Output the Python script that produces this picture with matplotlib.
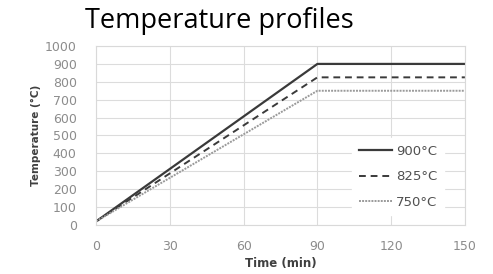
import matplotlib.pyplot as plt

# time points (min) and temperatures (°C) per profile
time = [0, 90, 150]
t900 = [20, 900, 900]
t825 = [20, 825, 825]
t750 = [20, 750, 750]
labels = ["900°C", "825°C", "750°C"]

plt.rcParams['font.family'] = ['DejaVu Sans']

fig = plt.figure(figsize=(4.93, 2.74), dpi=100)
ax = fig.add_axes([0.195, 0.179, 0.748, 0.653])

ax.plot(time, t900, color='#3a3a3a', lw=1.6, ls='-', label=labels[0])
ax.plot(time, t825, color='#3a3a3a', lw=1.4, ls=(0, (3.5, 2.5)), label=labels[1])
ax.plot(time, t750, color='#9a9a9a', lw=1.4, ls=(0, (1, 0.6)), label=labels[2])

ax.set_xlim(0, 150)
ax.set_ylim(0, 1000)
ax.set_xticks(range(0, 151, 30))
ax.set_yticks(range(0, 1001, 100))
ax.grid(True, color='#dcdcdc', lw=0.8)
ax.set_axisbelow(True)
for s in ax.spines.values():
    s.set_color('#d9d9d9')
    s.set_linewidth(0.8)
ax.tick_params(length=0, labelsize=9, labelcolor='#8c8c8c')
ax.tick_params(axis='x', pad=11)
ax.tick_params(axis='y', pad=14)

ax.set_xlabel('Time (min)', fontsize=8.5, fontweight='bold', color='#404040', labelpad=3)
ax.set_ylabel('Temperature (°C)', fontsize=7.5, fontweight='bold', color='#404040', labelpad=3)

leg = ax.legend(loc='center right', bbox_to_anchor=(0.96, 0.27), frameon=True,
                fontsize=9.5, handlelength=2.5, handletextpad=0.3, labelspacing=0.95,
                borderpad=0.5, fancybox=False)
leg.get_frame().set_edgecolor('white')
leg.get_frame().set_facecolor('white')
leg.get_frame().set_alpha(1)
for t in leg.get_texts():
    t.set_color('#505050')

fig.text(0.172, 0.925, 'Temperature profiles', fontsize=19.5, color='black', va='center',
         family=['Open Sans', 'DejaVu Sans'])

fig.savefig('out.png', dpi=100)
